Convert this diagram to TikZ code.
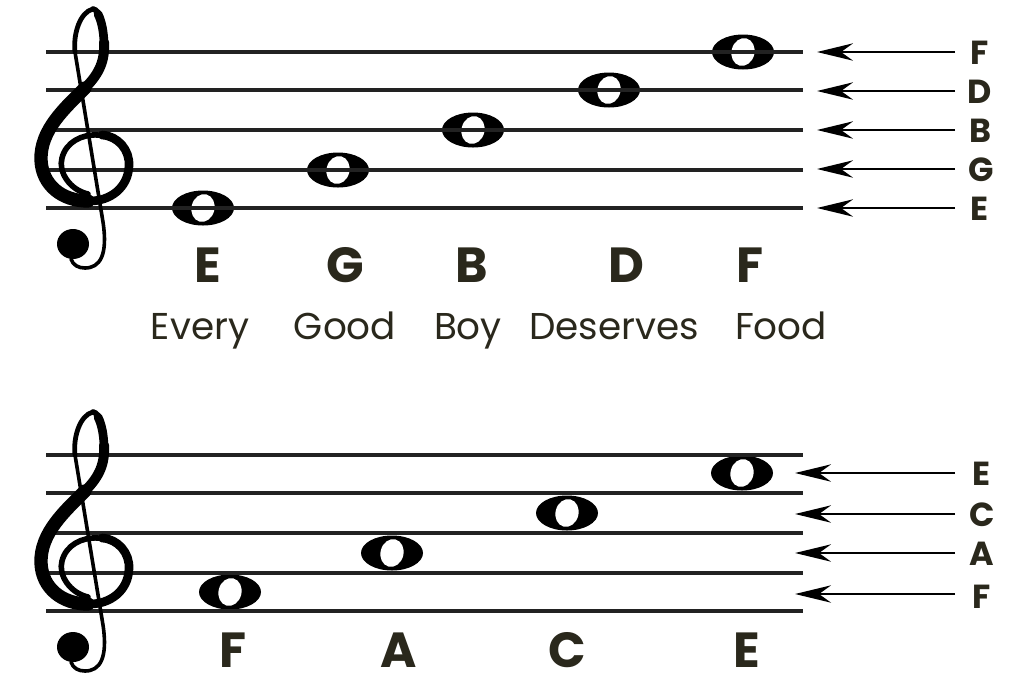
\documentclass[tikz,border=0pt]{standalone}
\usepackage{fontspec}
\setmainfont{Poppins}
\usetikzlibrary{arrows.meta}
\definecolor{ink}{RGB}{42,40,28}
\definecolor{staffc}{RGB}{34,34,34}
\begin{document}
\begin{tikzpicture}[x=0.75pt,y=-0.75pt,
  staffline/.style={line width=2.4pt, draw=staffc},
  arr/.style={line width=1.9pt, draw=black, -{Stealth[length=27pt,width=13pt,inset=9pt]}},
  big/.style={font=\fontsize{37}{40}\selectfont\bfseries, text=ink, inner sep=0pt, anchor=base},
  word/.style={font=\fontsize{28}{32}\selectfont, text=ink, inner sep=0pt, anchor=base},
  side/.style={font=\fontsize{25}{28}\selectfont\bfseries, text=ink, inner sep=0pt, anchor=base},
  wholenote/.pic={
    \fill[black] (0,0) ellipse [x radius=31, y radius=17.5];
    \fill[white, rotate=-14] (0,0) ellipse [x radius=11.5, y radius=14];
  },
  gclef/.pic={
    \draw[line width=4.2pt, line cap=round] (88,194) .. controls (70,190) and (58,172) .. (62,158) .. controls (66,142) and (82,134) .. (98,135) .. controls (118,136) and (130,150) .. (129,166) .. controls (128,188) and (110,201) .. (90,201) .. controls (62,201) and (42,185) .. (41,160) .. controls (40,130) and (65,108) .. (85,88) .. controls (100,73) and (105,60) .. (104,42) .. controls (103,25) and (100,10) .. (93,9);
    \draw[line width=6.5pt, line cap=round] (102,135) .. controls (118,136) and (130,150) .. (129,166) .. controls (128,188) and (110,201) .. (90,201);
    \draw[line width=10pt, line cap=round] (88,201) .. controls (62,201) and (42,185) .. (41,160) .. controls (40,130) and (65,108) .. (85,88);
    \draw[line width=7.5pt, line cap=round] (85,88) .. controls (100,73) and (105,60) .. (104,42);
    \draw[line width=6.5pt, line cap=round] (104,42) .. controls (103.5,32) and (102,22) .. (98,14);
    \draw[line width=3.6pt, line cap=round] (93,9) .. controls (80,12) and (73,34) .. (75,52);
    \draw[line width=2.7pt, line cap=round] (75,52) -- (103,222) .. controls (108,255) and (100,268) .. (85,268) .. controls (78,268) and (73,265) .. (71,259);
    \fill (73,244) ellipse [x radius=16, y radius=15];
  }
]
\fill[white] (0,0) rectangle (1024,683);
\useasboundingbox (0,0) rectangle (1024,683);

% ---------- top staff ----------
\pic (nE1) at (203,208) {wholenote};
\pic (nG1) at (338,170) {wholenote};
\pic (nB1) at (473,130) {wholenote};
\pic (nD1) at (609,90) {wholenote};
\pic (nF1) at (743,52) {wholenote};
\foreach \y in {52,90,130,170,208} \draw[staffline] (46,\y) -- (803,\y);
\pic (clef1) at (0,0) {gclef};

\node[big] (tE) at (208,282) {E};
\node[big] (tG) at (345,282) {G};
\node[big] (tB) at (472,282) {B};
\node[big] (tD) at (626,282) {D};
\node[big] (tF) at (750,282) {F};
\node[word] (wEvery) at (200,339) {Every};
\node[word] (wGood) at (345,339) {Good};
\node[word] (wBoy) at (468,339) {Boy};
\node[word] (wDeserves) at (614,339) {Deserves};
\node[word] (wFood) at (781,339) {Food};

\node[side] (sF) at (980,64) {F};
\node[side] (sD) at (980,103) {D};
\node[side] (sB) at (980,142) {B};
\node[side] (sG) at (981,181) {G};
\node[side] (sE) at (980,220) {E};
\foreach \n/\y in {F/52,D/91,B/130,G/169,E/208}{
  \coordinate (tail\n1) at (955,\y);
  \coordinate (tip\n1) at (817,\y);
  \draw[arr] (tail\n1) -- (tip\n1);
}

% ---------- bottom staff ----------
\pic (nF2) at (230,592) {wholenote};
\pic (nA2) at (392,553) {wholenote};
\pic (nC2) at (567,513) {wholenote};
\pic (nE2) at (742,473) {wholenote};
\foreach \y in {455,493,533,573,611} \draw[staffline] (46,\y) -- (803,\y);
\pic (clef2) at (0,403) {gclef};

\node[big] (bF) at (233,667) {F};
\node[big] (bA) at (399,667) {A};
\node[big] (bC) at (567,667) {C};
\node[big] (bE) at (747,667) {E};

\node[side] (rE) at (982,485) {E};
\node[side] (rC) at (982,526) {C};
\node[side] (rA) at (982,565) {A};
\node[side] (rF) at (982,608) {F};
\foreach \n/\y in {E/473,C/514,A/553,F/594}{
  \coordinate (tail\n2) at (955,\y);
  \coordinate (tip\n2) at (795,\y);
  \draw[arr] (tail\n2) -- (tip\n2);
}
\end{tikzpicture}
\end{document}
